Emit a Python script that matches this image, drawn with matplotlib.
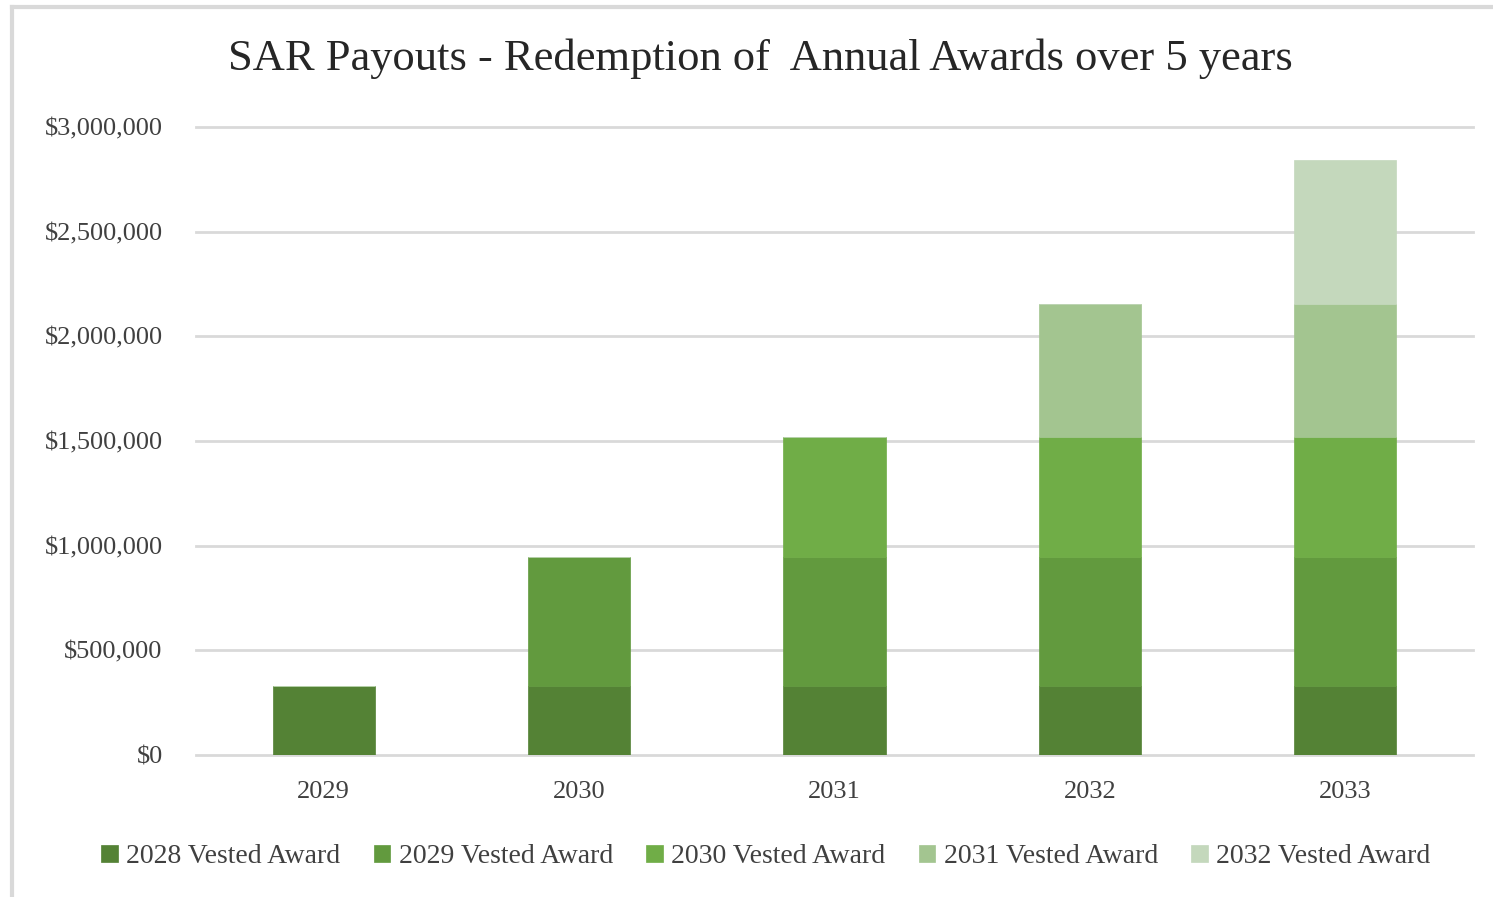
import matplotlib
matplotlib.use('Agg')
import numpy as np
import matplotlib.pyplot as plt
from matplotlib.lines import Line2D
from matplotlib.ticker import FuncFormatter

# Payout years and the vested award tranches (USD)
years = ['2029', '2030', '2031', '2032', '2033']
series_names = ['2028 Vested Award', '2029 Vested Award', '2030 Vested Award',
                '2031 Vested Award', '2032 Vested Award']
award_2028 = [332000, 332000, 332000, 332000, 332000]
award_2029 = [0, 612000, 612000, 612000, 612000]
award_2030 = [0, 0, 573000, 573000, 573000]
award_2031 = [0, 0, 0, 636000, 636000]
award_2032 = [0, 0, 0, 0, 689000]
colors = ['#548235', '#629A3E', '#70AD47', '#A3C590', '#C4D8BC']

plt.rcParams['font.family'] = ['Liberation Serif', 'DejaVu Serif']

fig = plt.figure(figsize=(14.93, 8.97), dpi=100)
ax = fig.add_axes([196 / 1493, (897 - 755) / 897, 1277 / 1493, 628 / 897])

x = np.arange(len(years))
bottom = np.zeros(len(years))
for name, vals, c in zip(series_names,
                         [award_2028, award_2029, award_2030, award_2031, award_2032],
                         colors):
    vals = np.array(vals, dtype=float)
    ax.bar(x, vals, width=0.4, bottom=bottom, color=c, label=name,
           edgecolor=c, linewidth=0.5, zorder=3)
    bottom += vals

ax.set_xlim(-0.5, len(years) - 0.5)
ax.set_ylim(0, 3000000)
ax.set_yticks(np.arange(0, 3000001, 500000))
ax.yaxis.set_major_formatter(FuncFormatter(lambda v, p: '${:,.0f}'.format(v)))
ax.set_xticks(x)
ax.set_xticklabels(years)
ax.grid(axis='y', color='#D9D9D9', linewidth=2, zorder=0)
for gl in ax.get_ygridlines():
    gl.set_clip_on(False)
for s in ax.spines.values():
    s.set_visible(False)
ax.tick_params(axis='both', length=0, labelsize=19, colors='#404040')
ax.tick_params(axis='y', pad=24)
ax.tick_params(axis='x', pad=19)

fig.text(0.509, 0.934, 'SAR Payouts - Redemption of  Annual Awards over 5 years',
         ha='center', va='center', fontsize=32, color='#262626')

leg = fig.legend(loc='center', bbox_to_anchor=(0.513, 0.045), ncol=5, frameon=False,
                 fontsize=20, handlelength=0.6, handleheight=0.6, handletextpad=0.3,
                 columnspacing=1.2, labelcolor='#404040')

# outer chart frame
fig.add_artist(Line2D([12 / 1493, 12 / 1493], [0, 1 - 7 / 897],
                      transform=fig.transFigure, color='#D9D9D9', linewidth=3))
fig.add_artist(Line2D([12 / 1493, 1], [1 - 7 / 897, 1 - 7 / 897],
                      transform=fig.transFigure, color='#D9D9D9', linewidth=3))

fig.savefig('out.png', dpi=100)
